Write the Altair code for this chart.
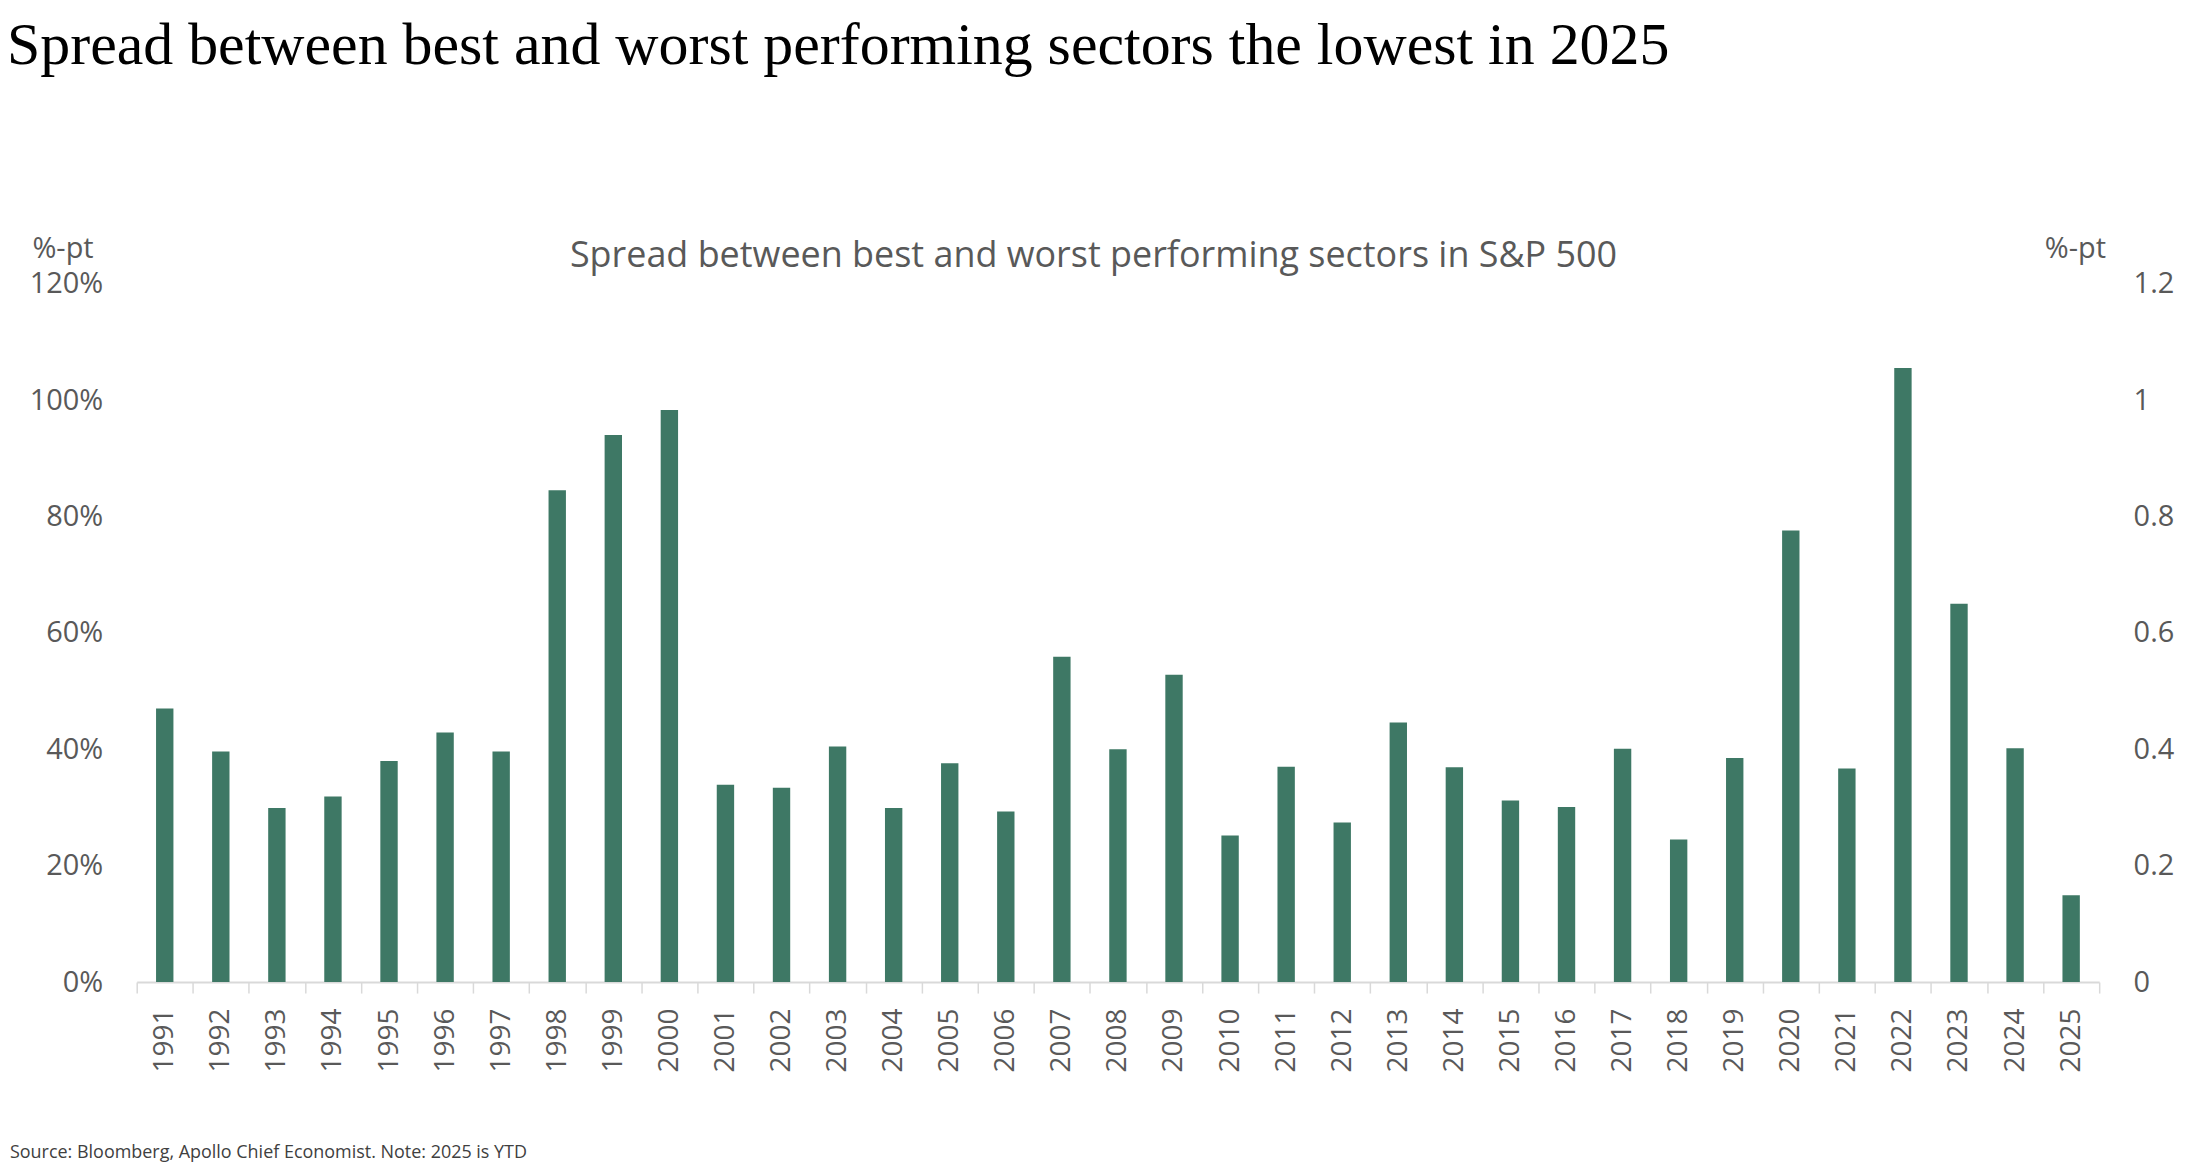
import altair as alt
import pandas as pd

years = [str(y) for y in range(1991, 2026)]
spread_pct = [47.0, 39.6, 29.9, 31.9, 38.0, 42.9, 39.6, 84.5, 94.0, 98.3,
              33.9, 33.4, 40.5, 29.9, 37.6, 29.3, 55.9, 40.0, 52.8, 25.2,
              37.0, 27.4, 44.6, 36.9, 31.2, 30.1, 40.1, 24.5, 38.5, 77.6,
              36.7, 105.5, 65.0, 40.2, 14.9]
y_ticks = [0, 0.2, 0.4, 0.6, 0.8, 1.0, 1.2]

title_text = "Spread between best and worst performing sectors the lowest in 2025"
subtitle_text = "Spread between best and worst performing sectors in S&P 500"
source_text = "Source: Bloomberg, Apollo Chief Economist. Note: 2025 is YTD"
unit_text = "%-pt"

df = pd.DataFrame({"year": years, "spread": [v / 100 for v in spread_pct]})

SANS = "Open Sans"
GREY = "#595959"
BAR = "#3E7865"
AXIS_LINE = "#D9D9D9"

W, H = 1967, 700

x_enc = alt.X(
    "year:N",
    sort=years,
    scale=alt.Scale(paddingInner=0, paddingOuter=0),
    axis=alt.Axis(
        title=None,
        labelAngle=270,
        labelFont=SANS,
        labelFontSize=28,
        labelColor=GREY,
        labelPadding=15,
        tickBand="extent",
        tickColor=AXIS_LINE,
        tickWidth=1.5,
        tickSize=11,
        domainColor=AXIS_LINE,
        domainWidth=2,
        grid=False,
    ),
)

def y_axis(orient, fmt, title_x):
    return alt.Axis(
        orient=orient,
        values=y_ticks,
        format=fmt,
        labelFont=SANS,
        labelFontSize=29,
        labelColor=GREY,
        labelPadding=34,
        ticks=False,
        tickSize=0,
        domain=False,
        grid=False,
        title=unit_text,
        titleFont=SANS,
        titleFontSize=29,
        titleFontWeight="normal",
        titleColor=GREY,
        titleAngle=0,
        titleAlign="left",
        titleBaseline="alphabetic",
        titleX=title_x,
        titleY=-26,
    )

bars = alt.Chart(df).mark_bar(color=BAR, width=alt.RelativeBandSize(0.31)).encode(
    x=x_enc,
    y=alt.Y("spread:Q", scale=alt.Scale(domain=[0, 1.2], nice=False),
            axis=y_axis("left", ".0%", -105)),
)

bars_right = alt.Chart(df).mark_bar(opacity=0, width=alt.RelativeBandSize(0.31)).encode(
    x=alt.X("year:N", sort=years),
    y=alt.Y("spread:Q", scale=alt.Scale(domain=[0, 1.2], nice=False),
            axis=y_axis("right", "~g", -55)),
)

title_mark = alt.Chart(pd.DataFrame({"t": [title_text]})).mark_text(
    font="Liberation Serif", fontSize=60, color="#000000", align="left", baseline="alphabetic"
).encode(x=alt.value(-130), y=alt.value(-220), text="t:N")

subtitle_mark = alt.Chart(pd.DataFrame({"t": [subtitle_text]})).mark_text(
    font=SANS, fontSize=36, color=GREY, align="center", baseline="alphabetic"
).encode(x=alt.value(959), y=alt.value(-17), text="t:N")

source_mark = alt.Chart(pd.DataFrame({"t": [source_text]})).mark_text(
    font=SANS, fontSize=18, color="#404040", align="left", baseline="alphabetic"
).encode(x=alt.value(-127), y=alt.value(876), text="t:N")

chart = (
    alt.layer(bars, bars_right, title_mark, subtitle_mark, source_mark)
    .resolve_scale(y="independent")
    .properties(
        width=W,
        height=H,
        autosize=alt.AutoSizeParams(type="none"),
        padding={"left": 129, "top": 275, "right": 80, "bottom": 180},
        background="white",
    )
    .configure_view(stroke=None)
)

chart.save("out.html", embed_options={"renderer": "svg", "actions": False})
